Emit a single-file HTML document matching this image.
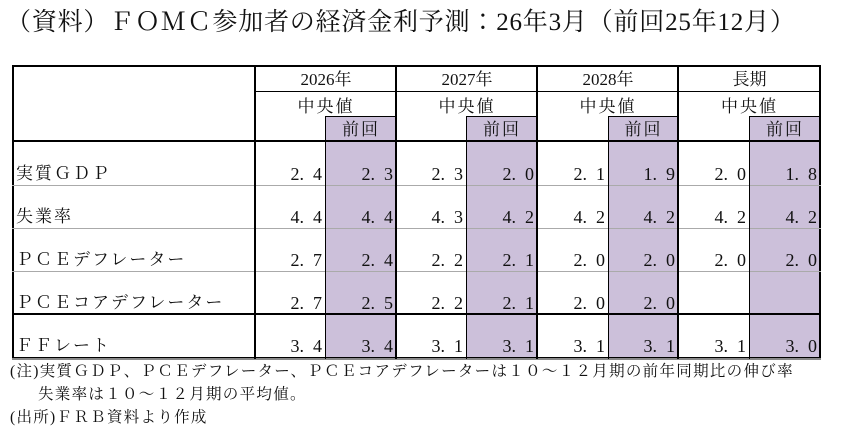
<!DOCTYPE html><html><head><meta charset="utf-8"><style>
body{margin:0;width:842px;height:430px;background:#fff;position:relative;overflow:hidden;font-family:"Liberation Serif","Noto Serif CJK JP","Noto Serif CJK SC",serif;color:#111}
div{position:absolute;box-sizing:border-box}
.p{background:#ccc0da}
.h{height:0;border-top:1px solid #000}
.g{height:0;border-top:1px solid #aaa}
.v{width:0;border-left:1px solid #000}
.t{font-size:17px;line-height:20px;white-space:nowrap;letter-spacing:2px}
.n{font-size:18px;line-height:20px;text-align:right;white-space:pre}
.c{text-align:center;font-size:17px;line-height:20px}
.nt{font-size:15.5px;line-height:20px;white-space:nowrap;letter-spacing:1.3px}
</style></head><body>
<div style="left:6px;top:8px;font-size:25px;line-height:30px;white-space:nowrap;letter-spacing:0.8px">（資料）ＦＯＭＣ参加者の経済金利予測：26年3月（前回25年12月）</div>
<div class="p" style="left:325px;top:117px;width:71px;height:241px"></div>
<div class="p" style="left:466px;top:117px;width:71px;height:241px"></div>
<div class="p" style="left:608px;top:117px;width:70px;height:241px"></div>
<div class="p" style="left:749px;top:117px;width:71px;height:241px"></div>
<div style="left:12px;top:65px;width:809px;height:294px;border:2px solid #000"></div>
<div style="left:12px;top:358px;width:809px;height:2px;background:#888"></div>
<div class="h" style="left:255px;top:91px;width:565px"></div>
<div class="h" style="left:325px;top:116px;width:71px"></div>
<div class="h" style="left:466px;top:116px;width:71px"></div>
<div class="h" style="left:608px;top:116px;width:70px"></div>
<div class="h" style="left:749px;top:116px;width:71px"></div>
<div style="left:12px;top:140px;width:809px;height:2px;background:#000"></div>
<div class="g" style="left:12px;top:185px;width:809px"></div>
<div class="g" style="left:12px;top:228px;width:809px"></div>
<div class="g" style="left:12px;top:271px;width:809px"></div>
<div style="left:12px;top:313px;width:809px;height:2px;background:#000"></div>
<div style="left:254px;top:65px;width:2px;height:294px;background:#000"></div>
<div style="left:395px;top:65px;width:2px;height:294px;background:#000"></div>
<div style="left:536px;top:65px;width:2px;height:294px;background:#000"></div>
<div style="left:677px;top:65px;width:2px;height:294px;background:#000"></div>
<div class="v" style="left:325px;top:116px;height:243px"></div>
<div class="v" style="left:466px;top:116px;height:243px"></div>
<div class="v" style="left:608px;top:116px;height:243px"></div>
<div class="v" style="left:749px;top:116px;height:243px"></div>
<div class="c" style="left:256px;top:70px;width:140px">2026年</div>
<div class="c" style="left:397px;top:70px;width:140px">2027年</div>
<div class="c" style="left:538px;top:70px;width:140px">2028年</div>
<div class="c" style="left:679px;top:70px;width:141px">長期</div>
<div class="c" style="left:256px;top:97px;width:140px;letter-spacing:2px">中央値</div>
<div class="c" style="left:397px;top:97px;width:140px;letter-spacing:2px">中央値</div>
<div class="c" style="left:538px;top:97px;width:140px;letter-spacing:2px">中央値</div>
<div class="c" style="left:679px;top:97px;width:141px;letter-spacing:2px">中央値</div>
<div class="c" style="left:326px;top:120px;width:70px;letter-spacing:2px">前回</div>
<div class="c" style="left:467px;top:120px;width:70px;letter-spacing:2px">前回</div>
<div class="c" style="left:609px;top:120px;width:69px;letter-spacing:2px">前回</div>
<div class="c" style="left:750px;top:120px;width:70px;letter-spacing:2px">前回</div>
<div class="t" style="left:16px;top:164px">実質ＧＤＰ</div>
<div class="t" style="left:16px;top:207px">失業率</div>
<div class="t" style="left:16px;top:250px">ＰＣＥデフレーター</div>
<div class="t" style="left:16px;top:293px">ＰＣＥコアデフレーター</div>
<div class="t" style="left:16px;top:336px">ＦＦレート</div>
<div id="nums"></div>
<script>
var rights=[322,393,463,534,605,675,746,817];
var rows=[[164,["2.4","2.3","2.3","2.0","2.1","1.9","2.0","1.8"]],[207,["4.4","4.4","4.3","4.2","4.2","4.2","4.2","4.2"]],[250,["2.7","2.4","2.2","2.1","2.0","2.0","2.0","2.0"]],[293,["2.7","2.5","2.2","2.1","2.0","2.0","",""]],[336,["3.4","3.4","3.1","3.1","3.1","3.1","3.1","3.0"]]];
var h="";rows.forEach(function(r){r[1].forEach(function(v,i){if(v)h+='<div class="n" style="left:'+(rights[i]-60)+'px;top:'+r[0]+'px;width:60px">'+v.replace(".",".  ")+'</div>';});});
document.getElementById("nums").outerHTML=h;
</script>
<div class="nt" style="left:10px;top:362px">(注)実質ＧＤＰ、ＰＣＥデフレーター、ＰＣＥコアデフレーターは１０～１２月期の前年同期比の伸び率</div>
<div class="nt" style="left:38px;top:385px">失業率は１０～１２月期の平均値。</div>
<div class="nt" style="left:10px;top:408px">(出所)ＦＲＢ資料より作成</div>
</body></html>
